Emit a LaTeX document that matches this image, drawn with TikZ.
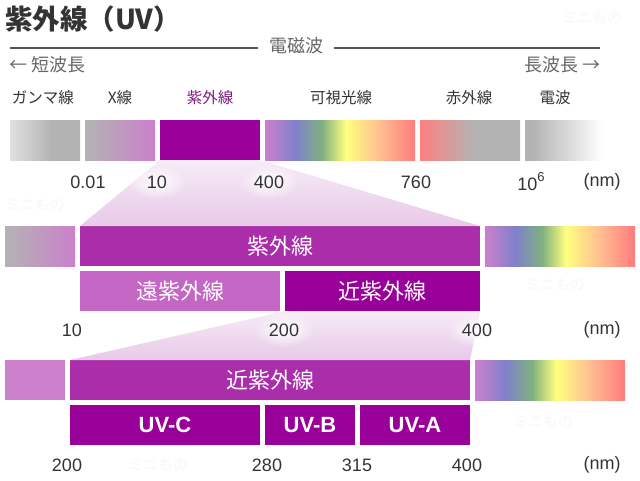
\documentclass[tikz,border=0pt]{standalone}
\usepackage{fontspec}
\setmainfont{Liberation Sans}
\newfontfamily\jp{Noto Sans CJK JP}
\usetikzlibrary{positioning, fadings}

\definecolor{ink}{HTML}{333333}
\definecolor{dim}{HTML}{666666}
\definecolor{rulec}{HTML}{555555}
\definecolor{uvdeep}{HTML}{990099}
\definecolor{uvmid}{HTML}{AA2EAA}
\definecolor{uvlight}{HTML}{C466C4}
\definecolor{uvpink}{HTML}{CC80CC}
\definecolor{catpurple}{HTML}{7D1A7D}
\definecolor{graymid}{HTML}{B3B3B3}
\definecolor{graylt}{HTML}{E0E0E0}
\definecolor{visblue}{HTML}{8080CC}
\definecolor{visgreen}{HTML}{80B080}
\definecolor{visyellow}{HTML}{FFFF80}
\definecolor{visorange}{HTML}{FFC090}
\definecolor{visred}{HTML}{FF8080}
\definecolor{fantop}{HTML}{F6ECF6}
\definecolor{fanbot}{HTML}{E8C9E8}

\pgfdeclarehorizontalshading{gammaband}{100bp}{color(0bp)=(graylt); color(25bp)=(graylt); color(55bp)=(graymid); color(100bp)=(graymid)}
\pgfdeclarehorizontalshading{visband}{100bp}{color(0bp)=(uvpink); color(25bp)=(uvpink); color(35bp)=(visblue); color(44bp)=(visgreen); color(52bp)=(visyellow); color(63bp)=(visorange); color(74bp)=(visred); color(100bp)=(visred)}
\pgfdeclarehorizontalshading{irband}{100bp}{color(0bp)=(visred); color(25bp)=(visred); color(52bp)=(graymid); color(100bp)=(graymid)}
\pgfdeclarehorizontalshading{radioband}{100bp}{color(0bp)=(graymid); color(25bp)=(graymid); color(30bp)=(graymid); color(73bp)=(white); color(100bp)=(white)}

\tikzfading[name=glow, inner color=transparent!0, outer color=transparent!100]

\begin{document}
\begin{tikzpicture}[x=1pt, y=-1pt,
    bar/.style={anchor=north west, minimum height=40pt, inner sep=0pt, outer sep=0pt, text=white},
    barjp/.style={font=\jp\fontsize{22}{24}\selectfont},
    barlat/.style={font=\bfseries\fontsize{22}{24}\selectfont},
    cat/.style={font=\jp\fontsize{15.5}{17}\selectfont, text=ink},
    num/.style={font=\fontsize{18}{20}\selectfont, text=ink},
    side/.style={font=\jp\fontsize{18}{20}\selectfont, text=dim},
    wmark/.style={font=\jp\bfseries\fontsize{15}{16}\selectfont, text=gray!4},
    fan/.style={top color=fantop, bottom color=fanbot},
    rule/.style={draw=rulec, line width=1.2pt}]
    \useasboundingbox (0,0) rectangle (640,480);

    % title and heading
    \node[anchor=west, inner sep=0pt, text=ink, font=\jp\bfseries\fontsize{27.5}{30}\selectfont] (title) at (5,19) {紫外線（UV）};
    \node[side, inner xsep=11pt] (em) at (296,46) {電磁波};
    \coordinate (emL) at (10,48);
    \coordinate (emR) at (600,48);
    \draw[rule] (emL) -- (emL -| em.west);
    \draw[rule] (emR) -- (emR -| em.east);
    \node[side, anchor=west, inner sep=0pt] (short) at (9,65) {← 短波長};
    \node[side, anchor=east, inner sep=0pt] (long) at (601,65) {長波長 →};

    % band names
    \node[cat] (lgamma) at (43,98) {ガンマ線};
    \node[cat] (lxray) at (120,98) {X線};
    \node[cat, text=catpurple] (luv) at (210,98) {紫外線};
    \node[cat] (lvis) at (341,98) {可視光線};
    \node[cat] (lir) at (469,98) {赤外線};
    \node[cat] (lradio) at (555,98) {電波};

    % spectrum
    \node[bar, minimum width=70pt, shade, shading=gammaband] (gamma) at (10,120) {};
    \node[bar, minimum width=70pt, left color=graymid, right color=uvpink] (xray) at (85,120) {};
    \node[bar, minimum width=100pt, fill=uvdeep] (uv) at (160,120) {};
    \node[bar, minimum width=150pt, shade, shading=visband] (vis) at (265,120) {};
    \node[bar, minimum width=100pt, shade, shading=irband] (ir) at (420,120) {};
    \node[bar, minimum width=80pt, shade, shading=radioband] (radio) at (525,120) {};

    % ultraviolet
    \node[bar, minimum width=70pt, left color=graymid, right color=uvpink] (xray2) at (5,226) {};
    \node[bar, minimum width=400pt, fill=uvmid, barjp] (uv2) at (80,226) {紫外線};
    \node[bar, minimum width=150pt, shade, shading=visband] (vis2) at (485,226) {};
    \node[bar, minimum width=200pt, fill=uvlight, barjp] (far) at (80,271) {遠紫外線};
    \node[bar, minimum width=195pt, fill=uvdeep, barjp] (near) at (285,271) {近紫外線};

    % near ultraviolet
    \node[bar, minimum width=60pt, fill=uvpink] (far2) at (5,360) {};
    \node[bar, minimum width=400pt, fill=uvmid, barjp] (near2) at (70,360) {近紫外線};
    \node[bar, minimum width=150pt, shade, shading=visband] (vis3) at (475,360) {};
    \node[bar, minimum width=190pt, fill=uvdeep, barlat] (uvc) at (70,405) {UV-C};
    \node[bar, minimum width=90pt, fill=uvdeep, barlat] (uvb) at (265,405) {UV-B};
    \node[bar, minimum width=110pt, fill=uvdeep, barlat] (uva) at (360,405) {UV-A};

    % zoom fans, with a soft halo behind the numbers on them
    \shade[fan] (uv.south west) -- (uv.south east) -- (uv2.north east) -- (uv2.north west) -- cycle;
    \shade[fan] (near.south west) -- (near.south east) -- (near2.north east) -- (near2.north west) -- cycle;
    \foreach \x/\y in {157/182, 269/182, 284/330, 477/330}
        \fill[white, path fading=glow] (\x,\y) ellipse [x radius=30pt, y radius=17pt];

    % wavelengths
    \node[num] (a001) at (88,182) {0.01};
    \node[num] (a10) at (157,182) {10};
    \node[num] (a400) at (269,182) {400};
    \node[num] (a760) at (416,182) {760};
    \node[num] (a1e6) at (531,182) {10\raisebox{0.5em}{\fontsize{13}{13}\selectfont 6}};
    \node[num] (anm) at (602,182) {(nm)};
    \node[num] (b10) at (72,330) {10};
    \node[num] (b200) at (284,330) {200};
    \node[num] (b400) at (477,330) {400};
    \node[num] (bnm) at (602,330) {(nm)};
    \node[num] (c200) at (67,465) {200};
    \node[num] (c280) at (267,465) {280};
    \node[num] (c315) at (357,465) {315};
    \node[num] (c400) at (467,465) {400};
    \node[num] (cnm) at (602,465) {(nm)};

    % watermarks
    \node[wmark] (wm1) at (592,18) {ミニもの};
    \node[wmark] (wm2) at (35,205) {ミニもの};
    \node[wmark] (wm3) at (555,285) {ミニもの};
    \node[wmark] (wm4) at (543,422) {ミニもの};
    \node[wmark] (wm5) at (158,465) {ミニもの};
\end{tikzpicture}
\end{document}
